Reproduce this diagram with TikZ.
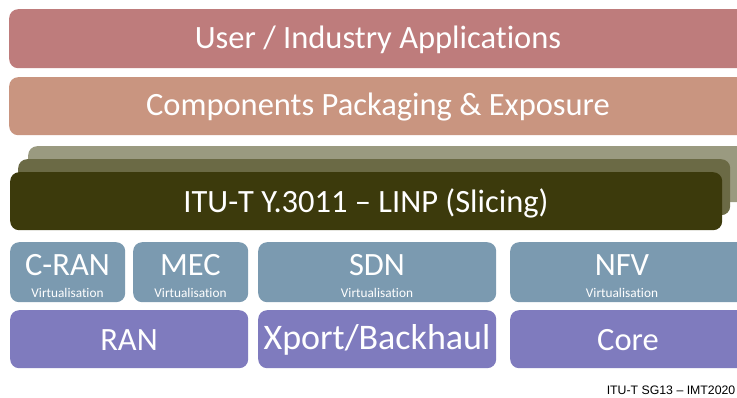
\documentclass[tikz,border=0pt]{standalone}
\usepackage{fontspec}
\setmainfont{Carlito}[Ligatures=NoCommon]
\newfontfamily\arialfont{Liberation Sans}
\definecolor{cuser}{HTML}{BE7C7C}
\definecolor{ccomp}{HTML}{C99580}
\definecolor{cslA}{HTML}{9A9A80}
\definecolor{cslB}{HTML}{6B6A45}
\definecolor{cslC}{HTML}{3C3A0C}
\definecolor{cvirt}{HTML}{7B9AB0}
\definecolor{cinfra}{HTML}{7F7BBE}
\tikzset{
  layer/.style={rounded corners=9pt, inner sep=0pt, anchor=north west, draw=none},
  bigtxt/.style={text=white, font=\fontsize{32.5}{32.5}\selectfont, inner sep=0pt},
  midtxt/.style={text=white, font=\fontsize{32.5}{32.5}\selectfont, inner sep=0pt},
  smalltxt/.style={text=white, font=\fontsize{13.3}{13.3}\selectfont, inner sep=0pt},
}
\begin{document}
\begin{tikzpicture}[x=1pt,y=-1pt]
\useasboundingbox (0,0) rectangle (737,397);
\clip (0,0) rectangle (737,397);
\fill[white] (0,0) rectangle (737,397);
% top layers
\node[layer, fill=cuser, minimum width=740pt, minimum height=59pt] (user) at (9,9) {};
\node[bigtxt] (usert) at (378,40) {User / Industry Applications};
\node[layer, fill=ccomp, minimum width=740pt, minimum height=58pt] (comp) at (9,77) {};
\node[bigtxt] (compt) at (378,107) {Components Packaging \& Exposure};
% slicing stack
\node[layer, fill=cslA, minimum width=720pt, minimum height=56pt] (slA) at (28,146) {};
\node[layer, fill=cslB, minimum width=712pt, minimum height=56pt] (slB) at (18,159) {};
\node[layer, fill=cslC, minimum width=712pt, minimum height=58pt] (slC) at (10,172) {};
\node[bigtxt] (slt) at (366,203) {ITU-T Y.3011 \textendash{} LINP (Slicing)};
% virtualisation row
\node[layer, fill=cvirt, minimum width=115pt, minimum height=60pt] (cran) at (10,242) {};
\node[layer, fill=cvirt, minimum width=115pt, minimum height=60pt] (mec) at (133,242) {};
\node[layer, fill=cvirt, minimum width=238pt, minimum height=60pt] (sdn) at (258,242) {};
\node[layer, fill=cvirt, minimum width=240pt, minimum height=60pt] (nfv) at (510,242) {};
\node[midtxt] (crant) at (67.5,265) {C-RAN};
\node[smalltxt] (cranv) at (67.5,293) {Virtualisation};
\node[midtxt] (mect) at (190.5,265) {MEC};
\node[smalltxt] (mecv) at (190.5,293) {Virtualisation};
\node[midtxt] (sdnt) at (377,265) {SDN};
\node[smalltxt] (sdnv) at (377,293) {Virtualisation};
\node[midtxt] (nfvt) at (622,265) {NFV};
\node[smalltxt] (nfvv) at (622,293) {Virtualisation};
% infrastructure row
\node[layer, fill=cinfra, minimum width=238pt, minimum height=58pt] (ran) at (10,310) {};
\node[layer, fill=cinfra, minimum width=238pt, minimum height=58pt] (xport) at (258,310) {};
\node[layer, fill=cinfra, minimum width=240pt, minimum height=58pt] (core) at (510,310) {};
\node[midtxt] (rant) at (129,340) {RAN};
\node[text=white, font=\fontsize{36}{36}\selectfont, inner sep=0pt] (xportt) at (377,340) {Xport/Backhaul};
\node[midtxt] (coret) at (628,340) {Core};
% footer
\node[anchor=east, inner sep=0pt, font=\arialfont\fontsize{12.3}{12.3}\selectfont] (foot) at (735.5,390) {ITU-T SG13 \textendash{} IMT2020};
\end{tikzpicture}
\end{document}
